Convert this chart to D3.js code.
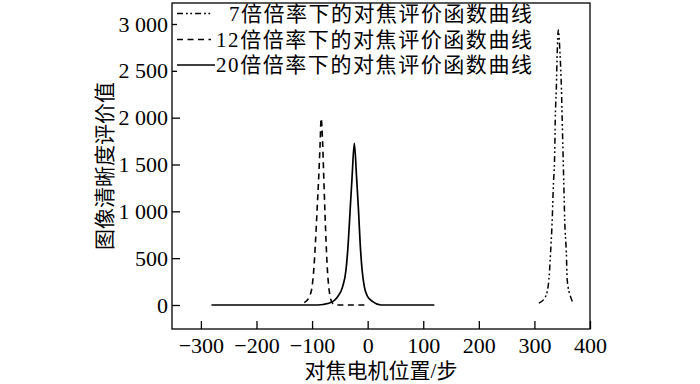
<!DOCTYPE html>
<html>
<head>
<meta charset="utf-8">
<script src="https://cdn.jsdelivr.net/npm/d3@7"></script>
<style>
  html, body { margin: 0; padding: 0; background: #fff; }
  svg { display: block; }
  .axis text { font-family: "Liberation Serif", "Times New Roman", serif; font-size: 22px; fill: #000; }
  .axis line { stroke: #000; stroke-width: 1.3; }
  .axis path { display: none; }
  .cn { font-family: "Liberation Serif", "Noto Sans CJK SC", serif; font-size: 21px; fill: #000; }
</style>
</head>
<body>
<div id="chart"></div>
<script>
// ---- Data ----
// 7x zoom curve
const pos7 = [308, 320, 326, 329, 332, 334, 336.5, 337.5, 339.5, 341, 343, 346, 348.5, 350, 351.5, 353, 354.5, 357.5, 359, 365, 371];
const val7 = [20, 89, 267, 551, 907, 1263, 1619, 1975, 2331, 2687, 2936, 2687, 2331, 1975, 1619, 1263, 907, 551, 267, 89, 15];
// 12x zoom curve
const pos12 = [-114, -105, -100, -97, -94, -91, -88, -85.5, -83.7, -81, -79, -77, -74.7, -72.4, -70, -67.5, -63, -56, -5];
const val12 = [25, 89, 196, 374, 658, 1014, 1370, 1726, 1993, 1726, 1370, 1014, 658, 374, 196, 89, 18, 0, 0];
// 20x zoom curve
const pos20 = [-281, -90, -80, -63, -54, -45, -39, -35, -31.5, -28, -24, -20, -16.5, -13.5, -10, -6, 0, 9, 24, 120];
const val20 = [0, 0, 5, 36, 89, 196, 374, 658, 1014, 1370, 1726, 1370, 1014, 658, 374, 196, 89, 36, 0, 0];

const legendLabels = ["7倍倍率下的对焦评价函数曲线", "12倍倍率下的对焦评价函数曲线", "20倍倍率下的对焦评价函数曲线"];
const xTicks = [-300, -200, -100, 0, 100, 200, 300, 400];
const yTicks = [0, 500, 1000, 1500, 2000, 2500, 3000];
const xTitle = "对焦电机位置/步";
const yTitle = "图像清晰度评价值";

// ---- Layout ----
const W = 700, H = 384;
const margin = {top: 3, right: 110, bottom: 55, left: 172};
const width = W - margin.left - margin.right;
const height = H - margin.top - margin.bottom;

const svg = d3.select("#chart").append("svg")
    .attr("width", W)
    .attr("height", H);

const g = svg.append("g")
    .attr("transform", `translate(${margin.left},${margin.top})`);

const x = d3.scaleLinear().domain([-352, 400]).range([0, width]);
const y = d3.scaleLinear().domain([0, 3000]).range([302, 21]);

const fmt = d => {
    const s = Math.abs(d).toString();
    const body = s.length > 3 ? s.slice(0, -3) + " " + s.slice(-3) : s;
    return (d < 0 ? "\u2212" : "") + body;
};

// axes (ticks point inward)
g.append("g")
    .attr("class", "axis")
    .attr("transform", `translate(0,${height})`)
    .call(d3.axisBottom(x).tickValues(xTicks).tickSize(-8).tickPadding(8).tickFormat(fmt));

g.append("g")
    .attr("class", "axis")
    .call(d3.axisLeft(y).tickValues(yTicks).tickSize(-8).tickPadding(4).tickFormat(fmt));

// frame
g.append("rect")
    .attr("x", 0).attr("y", 0)
    .attr("width", width).attr("height", height)
    .attr("fill", "none")
    .attr("stroke", "#000")
    .attr("stroke-width", 1.3);

// curves
const series = [
    {xs: pos7, ys: val7, dash: "6,3,1.8,2.5,1.8,3", w: 1.5},
    {xs: pos12, ys: val12, dash: "6,4.5", w: 1.6},
    {xs: pos20, ys: val20, dash: null, w: 1.7}
];

const line = d3.line()
    .x(d => x(d[0]))
    .y(d => y(d[1]))
    .curve(d3.curveMonotoneX);

series.forEach(s => {
    g.append("path")
        .datum(d3.zip(s.xs, s.ys))
        .attr("fill", "none")
        .attr("stroke", "#000")
        .attr("stroke-width", s.w)
        .attr("stroke-dasharray", s.dash)
        .attr("d", line);
});

// legend (white box over the plot corner)
const lg = g.append("g");
lg.append("rect")
    .attr("x", 5).attr("y", 1)
    .attr("width", 364).attr("height", 68)
    .attr("fill", "#fff");

const rowY = [10.5, 36.5, 62];
const textX = [57, 44, 44];
legendLabels.forEach((lab, i) => {
    lg.append("line")
        .attr("x1", 5).attr("x2", i === 2 ? 43 : 39)
        .attr("y1", rowY[i]).attr("y2", rowY[i])
        .attr("stroke", "#000")
        .attr("stroke-width", 1.5)
        .attr("stroke-dasharray", series[i].dash);
    lg.append("text")
        .attr("class", "cn")
        .attr("x", textX[i])
        .attr("y", rowY[i] + 7)
        .attr("textLength", 360 - textX[i])
        .text(lab);
});

// axis titles
svg.append("text")
    .attr("class", "cn")
    .attr("x", margin.left + width / 2)
    .attr("y", 378)
    .attr("text-anchor", "middle")
    .text(xTitle);

svg.append("text")
    .attr("class", "cn")
    .attr("transform", `translate(105,${margin.top + height / 2}) rotate(-90)`)
    .attr("text-anchor", "middle")
    .attr("dominant-baseline", "central")
    .text(yTitle);
</script>
</body>
</html>
